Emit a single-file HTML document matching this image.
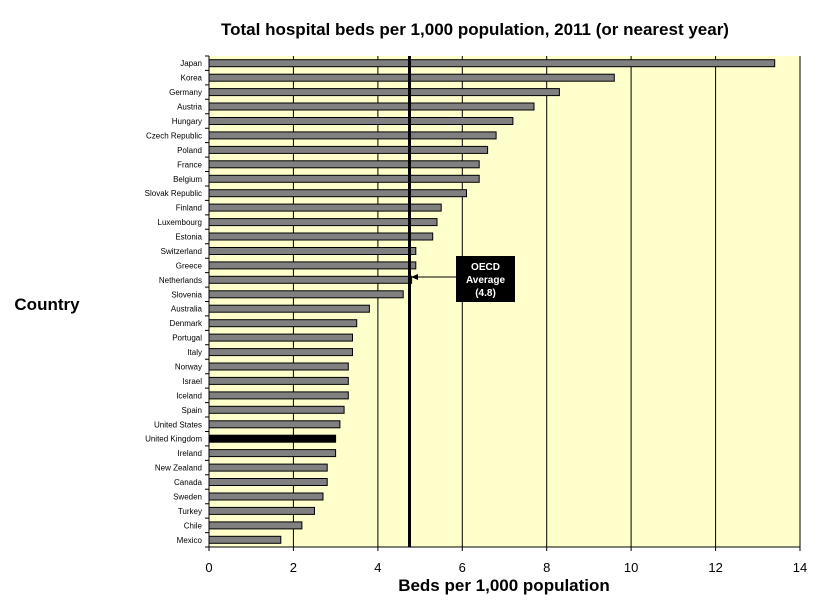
<!DOCTYPE html>
<html><head><style>body{margin:0;background:#fff}svg{display:block}</style></head><body>
<svg width="825" height="602" xmlns="http://www.w3.org/2000/svg" font-family="Liberation Sans, Arial, sans-serif">
<rect width="825" height="602" fill="#fff"/>
<text x="475" y="35" font-size="17" font-weight="bold" text-anchor="middle">Total hospital beds per 1,000 population, 2011 (or nearest year)</text>
<rect x="209" y="56" width="591" height="491" fill="#FFFFCC"/>
<g stroke="#000" stroke-width="1">
<line x1="293.4" y1="56" x2="293.4" y2="547"/><line x1="377.9" y1="56" x2="377.9" y2="547"/>
<line x1="462.3" y1="56" x2="462.3" y2="547"/><line x1="546.7" y1="56" x2="546.7" y2="547"/>
<line x1="631.1" y1="56" x2="631.1" y2="547"/><line x1="715.6" y1="56" x2="715.6" y2="547"/>
<line x1="800" y1="56" x2="800" y2="547"/>
</g>
<g font-size="8" text-anchor="end" fill="#000">
<g transform="translate(0,63.2)"><rect x="209" y="-3.5" width="565.7" height="7" fill="#808080" stroke="#000"/><text x="202" y="3">Japan</text></g>
<g transform="translate(0,77.7)"><rect x="209" y="-3.5" width="405.3" height="7" fill="#808080" stroke="#000"/><text x="202" y="3">Korea</text></g>
<g transform="translate(0,92.1)"><rect x="209" y="-3.5" width="350.4" height="7" fill="#808080" stroke="#000"/><text x="202" y="3">Germany</text></g>
<g transform="translate(0,106.5)"><rect x="209" y="-3.5" width="325.0" height="7" fill="#808080" stroke="#000"/><text x="202" y="3">Austria</text></g>
<g transform="translate(0,121.0)"><rect x="209" y="-3.5" width="303.9" height="7" fill="#808080" stroke="#000"/><text x="202" y="3">Hungary</text></g>
<g transform="translate(0,135.4)"><rect x="209" y="-3.5" width="287.1" height="7" fill="#808080" stroke="#000"/><text x="202" y="3">Czech Republic</text></g>
<g transform="translate(0,149.9)"><rect x="209" y="-3.5" width="278.6" height="7" fill="#808080" stroke="#000"/><text x="202" y="3">Poland</text></g>
<g transform="translate(0,164.3)"><rect x="209" y="-3.5" width="270.2" height="7" fill="#808080" stroke="#000"/><text x="202" y="3">France</text></g>
<g transform="translate(0,178.8)"><rect x="209" y="-3.5" width="270.2" height="7" fill="#808080" stroke="#000"/><text x="202" y="3">Belgium</text></g>
<g transform="translate(0,193.2)"><rect x="209" y="-3.5" width="257.5" height="7" fill="#808080" stroke="#000"/><text x="202" y="3">Slovak Republic</text></g>
<g transform="translate(0,207.6)"><rect x="209" y="-3.5" width="232.2" height="7" fill="#808080" stroke="#000"/><text x="202" y="3">Finland</text></g>
<g transform="translate(0,222.1)"><rect x="209" y="-3.5" width="228.0" height="7" fill="#808080" stroke="#000"/><text x="202" y="3">Luxembourg</text></g>
<g transform="translate(0,236.5)"><rect x="209" y="-3.5" width="223.7" height="7" fill="#808080" stroke="#000"/><text x="202" y="3">Estonia</text></g>
<g transform="translate(0,251.0)"><rect x="209" y="-3.5" width="206.8" height="7" fill="#808080" stroke="#000"/><text x="202" y="3">Switzerland</text></g>
<g transform="translate(0,265.4)"><rect x="209" y="-3.5" width="206.8" height="7" fill="#808080" stroke="#000"/><text x="202" y="3">Greece</text></g>
<g transform="translate(0,279.8)"><rect x="209" y="-3.5" width="202.6" height="7" fill="#808080" stroke="#000"/><text x="202" y="3">Netherlands</text></g>
<g transform="translate(0,294.3)"><rect x="209" y="-3.5" width="194.2" height="7" fill="#808080" stroke="#000"/><text x="202" y="3">Slovenia</text></g>
<g transform="translate(0,308.7)"><rect x="209" y="-3.5" width="160.4" height="7" fill="#808080" stroke="#000"/><text x="202" y="3">Australia</text></g>
<g transform="translate(0,323.2)"><rect x="209" y="-3.5" width="147.7" height="7" fill="#808080" stroke="#000"/><text x="202" y="3">Denmark</text></g>
<g transform="translate(0,337.6)"><rect x="209" y="-3.5" width="143.5" height="7" fill="#808080" stroke="#000"/><text x="202" y="3">Portugal</text></g>
<g transform="translate(0,352.1)"><rect x="209" y="-3.5" width="143.5" height="7" fill="#808080" stroke="#000"/><text x="202" y="3">Italy</text></g>
<g transform="translate(0,366.5)"><rect x="209" y="-3.5" width="139.3" height="7" fill="#808080" stroke="#000"/><text x="202" y="3">Norway</text></g>
<g transform="translate(0,380.9)"><rect x="209" y="-3.5" width="139.3" height="7" fill="#808080" stroke="#000"/><text x="202" y="3">Israel</text></g>
<g transform="translate(0,395.4)"><rect x="209" y="-3.5" width="139.3" height="7" fill="#808080" stroke="#000"/><text x="202" y="3">Iceland</text></g>
<g transform="translate(0,409.8)"><rect x="209" y="-3.5" width="135.1" height="7" fill="#808080" stroke="#000"/><text x="202" y="3">Spain</text></g>
<g transform="translate(0,424.3)"><rect x="209" y="-3.5" width="130.9" height="7" fill="#808080" stroke="#000"/><text x="202" y="3">United States</text></g>
<g transform="translate(0,438.7)"><rect x="209" y="-3.5" width="126.6" height="7" fill="#000" stroke="#000"/><text x="202" y="3">United Kingdom</text></g>
<g transform="translate(0,453.1)"><rect x="209" y="-3.5" width="126.6" height="7" fill="#808080" stroke="#000"/><text x="202" y="3">Ireland</text></g>
<g transform="translate(0,467.6)"><rect x="209" y="-3.5" width="118.2" height="7" fill="#808080" stroke="#000"/><text x="202" y="3">New Zealand</text></g>
<g transform="translate(0,482.0)"><rect x="209" y="-3.5" width="118.2" height="7" fill="#808080" stroke="#000"/><text x="202" y="3">Canada</text></g>
<g transform="translate(0,496.5)"><rect x="209" y="-3.5" width="114.0" height="7" fill="#808080" stroke="#000"/><text x="202" y="3">Sweden</text></g>
<g transform="translate(0,510.9)"><rect x="209" y="-3.5" width="105.5" height="7" fill="#808080" stroke="#000"/><text x="202" y="3">Turkey</text></g>
<g transform="translate(0,525.4)"><rect x="209" y="-3.5" width="92.9" height="7" fill="#808080" stroke="#000"/><text x="202" y="3">Chile</text></g>
<g transform="translate(0,539.8)"><rect x="209" y="-3.5" width="71.8" height="7" fill="#808080" stroke="#000"/><text x="202" y="3">Mexico</text></g>
</g>
<line x1="209" y1="56" x2="209" y2="547" stroke="#000"/>
<line x1="209" y1="547" x2="800" y2="547" stroke="#000"/>
<path stroke="#000" fill="none" d="M205 56H209M205 70.4H209M205 84.9H209M205 99.3H209M205 113.8H209M205 128.2H209M205 142.6H209M205 157.1H209M205 171.5H209M205 186H209M205 200.4H209M205 214.9H209M205 229.3H209M205 243.7H209M205 258.2H209M205 272.6H209M205 287.1H209M205 301.5H209M205 315.9H209M205 330.4H209M205 344.8H209M205 359.3H209M205 373.7H209M205 388.1H209M205 402.6H209M205 417H209M205 431.5H209M205 445.9H209M205 460.4H209M205 474.8H209M205 489.2H209M205 503.7H209M205 518.1H209M205 532.6H209M205 547H209M209 547V551M293.4 547V551M377.9 547V551M462.3 547V551M546.7 547V551M631.1 547V551M715.6 547V551M800 547V551"/>
<line x1="409.5" y1="56" x2="409.5" y2="547" stroke="#000" stroke-width="3"/>
<line x1="456" y1="277" x2="416" y2="277" stroke="#000"/>
<polygon points="411,277 418,274 418,280" fill="#000"/>
<rect x="456" y="256" width="59" height="46" fill="#000"/>
<g fill="#fff" font-size="10" font-weight="bold" text-anchor="middle">
<text x="485.5" y="270">OECD</text><text x="485.5" y="283">Average</text><text x="485.5" y="296">(4.8)</text></g>
<g font-size="13" text-anchor="middle">
<text x="209" y="572">0</text><text x="293.4" y="572">2</text><text x="377.9" y="572">4</text><text x="462.3" y="572">6</text><text x="546.7" y="572">8</text><text x="631.1" y="572">10</text><text x="715.6" y="572">12</text><text x="800" y="572">14</text></g>
<text x="504" y="591" font-size="17" font-weight="bold" text-anchor="middle">Beds per 1,000 population</text>
<text x="47" y="310" font-size="17" font-weight="bold" text-anchor="middle">Country</text>
</svg>
</body></html>
